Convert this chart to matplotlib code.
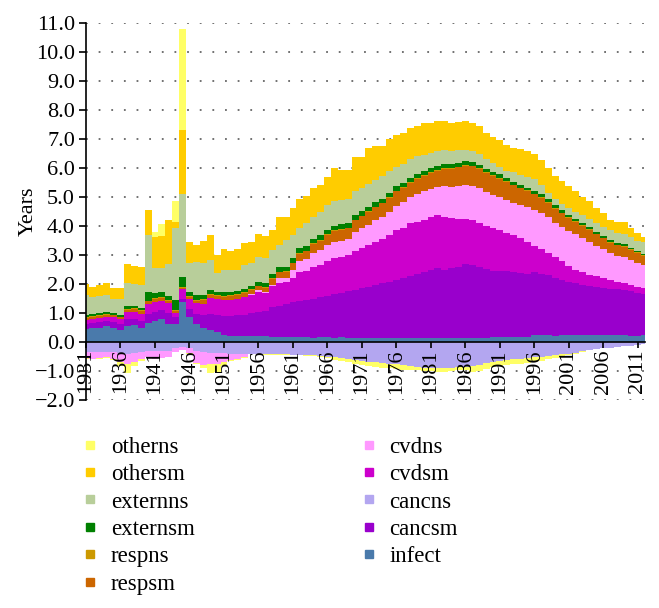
import numpy as np
import matplotlib
matplotlib.use("Agg")
import matplotlib.pyplot as plt
from matplotlib.lines import Line2D
from matplotlib.ticker import FuncFormatter

plt.rcParams['font.family'] = ['Liberation Serif', 'DejaVu Serif']

years = list(range(1931, 2013))

infect = [
    0.45, 0.48, 0.50, 0.55, 0.50, 0.42, 0.55, 0.58, 0.50, 0.66,
    0.72, 0.78, 0.62, 0.62, 1.38, 0.85, 0.62, 0.50, 0.42, 0.36,
    0.26, 0.20, 0.20, 0.20, 0.21, 0.20, 0.22, 0.18, 0.17, 0.17,
    0.18, 0.16, 0.16, 0.15, 0.16, 0.16, 0.15, 0.16, 0.15, 0.15,
    0.15, 0.14, 0.15, 0.14, 0.14, 0.14, 0.13, 0.14, 0.13, 0.15,
    0.14, 0.15, 0.14, 0.13, 0.14, 0.13, 0.14, 0.15, 0.14, 0.16,
    0.16, 0.17, 0.17, 0.18, 0.19, 0.24, 0.24, 0.23, 0.22, 0.24,
    0.25, 0.24, 0.24, 0.23, 0.24, 0.25, 0.24, 0.24, 0.23, 0.22,
    0.20, 0.25]
cancsm = [
    0.17, 0.18, 0.18, 0.17, 0.20, 0.20, 0.23, 0.22, 0.22, 0.32,
    0.33, 0.32, 0.38, 0.23, 0.12, 0.30, 0.36, 0.45, 0.56, 0.59,
    0.64, 0.70, 0.72, 0.75, 0.79, 0.85, 0.86, 1.02, 1.08, 1.15,
    1.20, 1.27, 1.30, 1.35, 1.39, 1.44, 1.50, 1.54, 1.60, 1.65,
    1.70, 1.76, 1.81, 1.88, 1.94, 2.00, 2.07, 2.14, 2.22, 2.27,
    2.34, 2.40, 2.36, 2.42, 2.46, 2.57, 2.52, 2.45, 2.38, 2.30,
    2.28, 2.28, 2.25, 2.20, 2.17, 2.16, 2.11, 2.07, 2.00, 1.91,
    1.83, 1.78, 1.74, 1.69, 1.66, 1.61, 1.60, 1.58, 1.57, 1.53,
    1.50, 1.40]
cancns = [
    -0.33, -0.33, -0.33, -0.33, -0.33, -0.38, -0.40, -0.38, -0.35, -0.30,
    -0.32, -0.30, -0.30, -0.22, -0.18, -0.20, -0.30, -0.35, -0.36, -0.38,
    -0.38, -0.40, -0.40, -0.42, -0.40, -0.40, -0.41, -0.41, -0.42, -0.42,
    -0.43, -0.44, -0.45, -0.46, -0.48, -0.50, -0.53, -0.56, -0.60, -0.63,
    -0.66, -0.68, -0.70, -0.72, -0.74, -0.76, -0.80, -0.82, -0.85, -0.88,
    -0.90, -0.90, -0.90, -0.88, -0.86, -0.86, -0.84, -0.78, -0.72, -0.68,
    -0.64, -0.62, -0.60, -0.58, -0.55, -0.52, -0.50, -0.48, -0.45, -0.42,
    -0.40, -0.36, -0.32, -0.28, -0.25, -0.22, -0.20, -0.18, -0.15, -0.12,
    -0.10, -0.08]
cvdsm = [
    0.14, 0.14, 0.14, 0.14, 0.15, 0.16, 0.24, 0.25, 0.26, 0.32,
    0.33, 0.32, 0.35, 0.15, 0.32, 0.33, 0.37, 0.37, 0.54, 0.53,
    0.55, 0.56, 0.58, 0.61, 0.62, 0.67, 0.60, 0.72, 0.80, 0.76,
    0.82, 0.97, 0.99, 1.10, 1.10, 1.20, 1.25, 1.25, 1.25, 1.35,
    1.40, 1.45, 1.49, 1.53, 1.62, 1.71, 1.75, 1.82, 1.80, 1.80,
    1.82, 1.83, 1.80, 1.73, 1.65, 1.56, 1.54, 1.50, 1.48, 1.46,
    1.42, 1.31, 1.26, 1.20, 1.10, 0.92, 0.85, 0.76, 0.70, 0.65,
    0.54, 0.48, 0.42, 0.40, 0.38, 0.36, 0.31, 0.26, 0.22, 0.23,
    0.20, 0.20]
cvdns = [
    -0.22, -0.24, -0.22, -0.20, -0.25, -0.32, -0.35, -0.30, -0.25, -0.22,
    -0.26, -0.24, -0.20, -0.12, -0.10, -0.18, -0.42, -0.45, -0.40, -0.38,
    -0.30, -0.22, -0.18, -0.10, 0.04, 0.06, 0.06, 0.06, 0.15, 0.14,
    0.30, 0.40, 0.40, 0.48, 0.53, 0.55, 0.55, 0.55, 0.55, 0.65,
    0.67, 0.70, 0.75, 0.77, 0.80, 0.85, 0.87, 0.90, 0.97, 0.98,
    0.98, 0.97, 1.08, 1.08, 1.13, 1.16, 1.18, 1.20, 1.18, 1.16,
    1.14, 1.14, 1.12, 1.14, 1.19, 1.23, 1.25, 1.24, 1.20, 1.18,
    1.22, 1.22, 1.20, 1.14, 1.04, 0.98, 0.91, 0.90, 0.92, 0.86,
    0.84, 0.81]
respsm = [
    0.07, 0.07, 0.08, 0.08, 0.07, 0.07, 0.10, 0.10, 0.10, 0.10,
    0.10, 0.10, 0.08, 0.06, 0.06, 0.08, 0.08, 0.12, 0.12, 0.10,
    0.12, 0.12, 0.12, 0.12, 0.14, 0.14, 0.14, 0.20, 0.20, 0.20,
    0.22, 0.25, 0.28, 0.30, 0.32, 0.35, 0.38, 0.38, 0.38, 0.40,
    0.42, 0.44, 0.45, 0.46, 0.48, 0.50, 0.50, 0.50, 0.52, 0.53,
    0.55, 0.56, 0.60, 0.62, 0.65, 0.66, 0.68, 0.68, 0.66, 0.65,
    0.64, 0.62, 0.60, 0.58, 0.56, 0.54, 0.52, 0.50, 0.48, 0.46,
    0.44, 0.42, 0.42, 0.41, 0.40, 0.38, 0.37, 0.36, 0.35, 0.34,
    0.33, 0.32]
respns = [
    0.03, 0.03, 0.03, 0.03, 0.03, 0.03, 0.03, 0.03, 0.03, 0.03,
    0.03, 0.03, 0.03, 0.03, 0.02, 0.03, 0.03, 0.03, 0.03, 0.03,
    0.03, 0.03, 0.03, 0.03, 0.03, 0.03, 0.03, 0.03, 0.03, 0.03,
    0.02, 0.02, 0.02, 0.02, 0.02, 0.02, 0.02, 0.02, 0.02, 0.02,
    0.02, 0.02, 0.02, 0.02, 0.02, 0.02, 0.02, 0.02, 0.02, 0.02,
    0.02, 0.02, 0.02, 0.02, 0.02, 0.02, 0.02, 0.02, 0.02, 0.02,
    0.02, 0.02, 0.02, 0.02, 0.02, 0.02, 0.02, 0.02, 0.02, 0.02,
    0.02, 0.02, 0.02, 0.02, 0.02, 0.02, 0.02, 0.02, 0.02, 0.02,
    0.02, 0.02]
externsm = [
    0.06, 0.06, 0.06, 0.06, 0.06, 0.06, 0.08, 0.08, 0.08, 0.28,
    0.18, 0.17, 0.12, 0.36, 0.35, 0.12, 0.15, 0.15, 0.14, 0.13,
    0.12, 0.12, 0.12, 0.12, 0.12, 0.13, 0.12, 0.14, 0.15, 0.15,
    0.16, 0.16, 0.16, 0.16, 0.16, 0.16, 0.16, 0.16, 0.16, 0.16,
    0.15, 0.15, 0.15, 0.15, 0.15, 0.15, 0.15, 0.15, 0.15, 0.14,
    0.14, 0.14, 0.14, 0.13, 0.13, 0.13, 0.13, 0.12, 0.12, 0.12,
    0.12, 0.11, 0.11, 0.10, 0.10, 0.10, 0.10, 0.10, 0.09, 0.08,
    0.08, 0.08, 0.07, 0.07, 0.07, 0.06, 0.06, 0.06, 0.06, 0.05,
    0.05, 0.05]
externns = [
    0.70, 0.59, 0.59, 0.59, 0.47, 0.56, 0.79, 0.74, 0.79, 1.99,
    0.86, 0.83, 1.12, 2.50, 2.87, 1.00, 1.16, 1.09, 1.02, 0.63,
    0.76, 0.75, 0.73, 0.82, 0.76, 0.86, 0.87, 0.82, 0.76, 0.92,
    0.79, 0.72, 0.78, 0.74, 0.82, 0.84, 0.84, 0.84, 0.81, 0.82,
    0.79, 0.79, 0.78, 0.77, 0.75, 0.68, 0.66, 0.63, 0.59, 0.56,
    0.53, 0.51, 0.48, 0.47, 0.44, 0.40, 0.39, 0.36, 0.32, 0.31,
    0.27, 0.25, 0.32, 0.34, 0.37, 0.41, 0.33, 0.23, 0.21, 0.21,
    0.24, 0.26, 0.27, 0.30, 0.31, 0.32, 0.35, 0.34, 0.37, 0.37,
    0.36, 0.40]
othersm = [
    0.38, 0.35, 0.40, 0.43, 0.38, 0.38, 0.68, 0.62, 0.62, 0.85,
    1.08, 1.10, 1.50, 0.20, 2.19, 0.75, 0.57, 0.79, 0.86, 0.63,
    0.72, 0.67, 0.70, 0.75, 0.75, 0.78, 0.76, 0.69, 0.96, 0.78,
    0.95, 1.00, 0.94, 1.00, 0.91, 0.96, 1.17, 1.05, 1.03, 1.17,
    1.07, 1.23, 1.16, 1.04, 1.09, 1.09, 1.05, 1.07, 1.05, 1.09,
    1.04, 1.05, 1.00, 0.95, 0.98, 0.99, 0.96, 0.97, 0.92, 0.90,
    0.92, 0.90, 0.83, 0.90, 0.88, 0.86, 0.86, 0.85, 0.80, 0.80,
    0.76, 0.70, 0.64, 0.59, 0.50, 0.47, 0.36, 0.39, 0.41, 0.30,
    0.25, 0.16]
otherns = [
    -0.05, -0.03, -0.02, -0.02, -0.03, -0.12, -0.30, -0.15, -0.05, 0.00,
    0.15, 0.42, 0.00, 0.70, 3.49, -0.02, -0.05, -0.10, -0.30, -0.28,
    -0.15, -0.05, -0.03, -0.02, -0.02, -0.02, -0.02, -0.02, -0.02, -0.02,
    -0.02, -0.02, -0.02, -0.03, -0.04, -0.06, -0.08, -0.08, -0.10, -0.12,
    -0.13, -0.14, -0.15, -0.16, -0.17, -0.17, -0.16, -0.15, -0.13, -0.12,
    -0.11, -0.12, -0.12, -0.12, -0.12, -0.12, -0.18, -0.22, -0.20, -0.18,
    -0.17, -0.17, -0.17, -0.16, -0.17, -0.17, -0.15, -0.12, -0.10, -0.08,
    -0.05, -0.04, -0.02, 0.00, 0.00, 0.00, 0.00, 0.00, 0.00, 0.00,
    0.00, 0.00]

# stacking order, bottom first
names = ['infect', 'cancsm', 'cancns', 'cvdsm', 'cvdns', 'respsm',
         'respns', 'externsm', 'externns', 'othersm', 'otherns']
data = [infect, cancsm, cancns, cvdsm, cvdns, respsm,
        respns, externsm, externns, othersm, otherns]
colors = ['#4a7aab', '#9900cc', '#b3a6f0', '#cc00cc', '#ff99ff', '#cc6600',
          '#cc9900', '#008000', '#b8ce9a', '#ffcc00', '#ffff66']

fig = plt.figure(figsize=(6.59, 6.08), dpi=100)
ax = fig.add_axes([0.1305, 0.342, 0.848, 0.62])

# dotted gridlines under the bars
for g in range(-2, 12):
    if g != 0:
        ax.axhline(g, linestyle=(0, (1, 6)), color='#666666',
                   linewidth=1.3, zorder=0)

pos = np.zeros(len(years))
neg = np.zeros(len(years))
for vals, col in zip(data, colors):
    v = np.array(vals)
    bottom = np.where(v >= 0, pos, neg)
    ax.bar(years, v, bottom=bottom, width=1.0, color=col,
           linewidth=0, antialiased=False, zorder=1)
    pos += np.clip(v, 0, None)
    neg += np.clip(v, None, 0)

ax.set_xlim(1931, 2012)
ax.set_ylim(-2, 11)
ax.set_yticks(range(-2, 12))
ax.yaxis.set_major_formatter(FuncFormatter(lambda v, p: f'{v:.1f}'.replace('-', '\u2212')))
ax.set_xticks(range(1931, 2012, 5))

ax.spines['top'].set_visible(False)
ax.spines['right'].set_visible(False)
ax.spines['bottom'].set_position(('data', 0))
ax.spines['left'].set_linewidth(1.2)
ax.spines['bottom'].set_linewidth(1.2)
ax.tick_params(axis='y', labelsize=16, length=5, width=1.2, pad=3)
ax.tick_params(axis='x', labelsize=16, length=4, width=1.2, pad=1,
               labelrotation=90)

ax.set_ylabel('Years', fontsize=16, labelpad=-2)

handles = [Line2D([], [], marker='s', linestyle='none', markersize=6,
                  color=c) for c in colors]
handles = handles[::-1]
labels = names[::-1]
for hs, ls, x0 in [(handles[:6], labels[:6], 0.123),
                   (handles[6:], labels[6:], 0.546)]:
    fig.legend(hs, ls, loc='upper left', bbox_to_anchor=(x0, 0.282),
               frameon=False, fontsize=16.5, handlelength=0.8,
               handletextpad=0.5, labelspacing=0.28,
               borderpad=0, borderaxespad=0)

fig.savefig('out.png', dpi=100)
